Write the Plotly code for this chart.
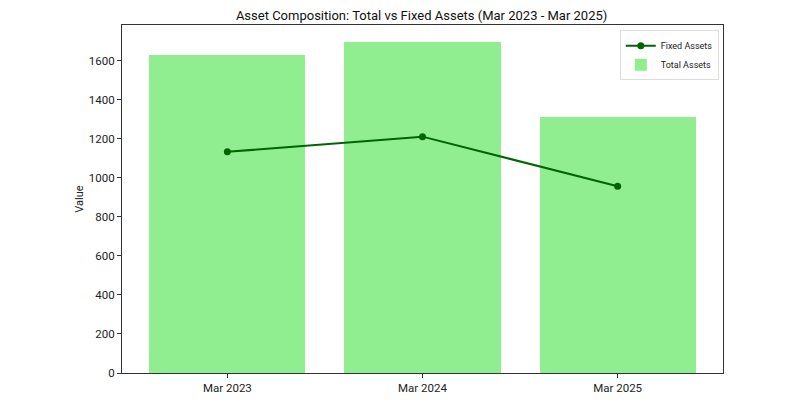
import plotly.graph_objects as go

categories = ["Mar 2023", "Mar 2024", "Mar 2025"]
total_assets = [1631, 1698, 1311]
fixed_assets = [1133, 1211, 957]

xpos = list(range(len(categories)))
font_family = "Roboto, Open Sans, sans-serif"

fig = go.Figure()
fig.add_trace(go.Bar(
    x=xpos, y=total_assets, name="Total Assets", width=0.8,
    marker=dict(color="#90EE90", line=dict(width=0)), legendrank=2,
))
fig.add_trace(go.Scatter(
    x=xpos, y=fixed_assets, name="Fixed Assets", mode="lines+markers",
    line=dict(color="#006400", width=2), marker=dict(color="#006400", size=7),
    legendrank=1,
))

fig.update_layout(
    width=800, height=400,
    margin=dict(l=122, r=77, t=25, b=27, autoexpand=False),
    paper_bgcolor="white", plot_bgcolor="white",
    font=dict(family=font_family, size=11.5, color="#222"),
    title=dict(text="Asset Composition: Total vs Fixed Assets (Mar 2023 - Mar 2025)",
               x=0.527, xanchor="center", y=0.962, yanchor="middle",
               font=dict(size=13, color="#111")),
    showlegend=True,
    legend=dict(x=0.993, y=0.985, xanchor="right", yanchor="top",
                bgcolor="rgba(255,255,255,0.8)", bordercolor="#ddd", borderwidth=1,
                font=dict(size=9), tracegroupgap=0, itemwidth=30),
    bargap=0,
)
fig.update_xaxes(
    range=[-0.54, 2.54], tickmode="array", tickvals=xpos, ticktext=categories,
    showline=True, linecolor="#333", linewidth=1, mirror=True, automargin=False,
    ticks="outside", ticklen=4, tickcolor="#333", showgrid=False, zeroline=False,
)
fig.update_yaxes(
    range=[0, 1783], tickmode="array", tickvals=[0, 200, 400, 600, 800, 1000, 1200, 1400, 1600],
    showline=True, linecolor="#333", linewidth=1, mirror=True, automargin=False,
    ticks="outside", ticklen=4, tickcolor="#333", showgrid=False, zeroline=False,
    title=dict(text="Value", font=dict(size=11), standoff=2),
)

fig.write_html("out.html")
